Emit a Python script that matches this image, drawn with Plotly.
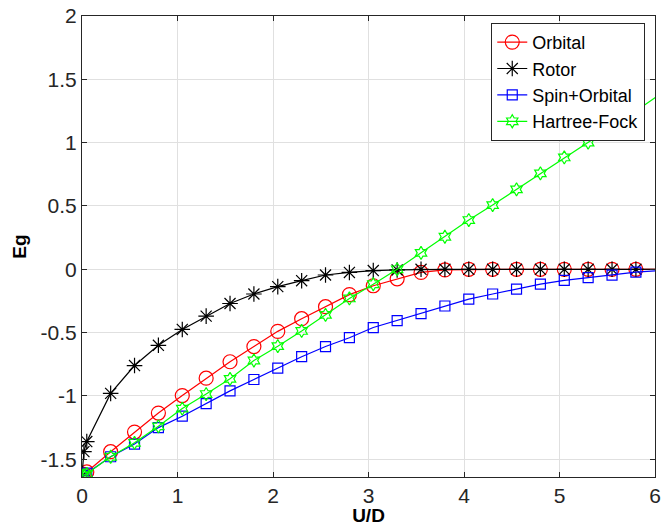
import plotly.graph_objects as go

# U/D values (last point lies just beyond the visible axis range)
x = [0, 0.02, 0.05, 0.3, 0.55, 0.8, 1.05, 1.3, 1.55, 1.8, 2.05, 2.3, 2.55, 2.8,
     3.05, 3.3, 3.55, 3.8, 4.05, 4.3, 4.55, 4.8, 5.05, 5.3, 5.55, 5.8, 6.05]

orbital = [-1.63, -1.62, -1.60, -1.44, -1.285, -1.135, -0.997, -0.86, -0.73, -0.61,
           -0.49, -0.39, -0.295, -0.20, -0.13, -0.075, -0.025, -0.005, 0, 0, 0, 0,
           0, 0, 0, 0, 0]
rotor = [-1.63, -1.44, -1.36, -0.98, -0.76, -0.60, -0.475, -0.37, -0.27, -0.195,
         -0.137, -0.09, -0.045, -0.025, -0.01, -0.005, 0, 0, 0, 0, 0, 0,
         0, 0, 0, 0, 0]
spin_orbital = [-1.63, -1.625, -1.61, -1.48, -1.38, -1.25, -1.16, -1.06, -0.96, -0.87,
                -0.78, -0.69, -0.61, -0.54, -0.46, -0.405, -0.35, -0.29, -0.235,
                -0.195, -0.157, -0.117, -0.088, -0.065, -0.046, -0.023, -0.01]
hartree_fock = [-1.63, -1.625, -1.615, -1.48, -1.37, -1.24, -1.10, -0.985, -0.865,
                -0.72, -0.607, -0.487, -0.36, -0.23, -0.118, 0.0, 0.13, 0.257, 0.389,
                0.507, 0.631, 0.757, 0.883, 1.00, 1.13, 1.25, 1.38]

x_ticks = [0, 1, 2, 3, 4, 5, 6]
y_ticks = [-1.5, -1, -0.5, 0, 0.5, 1, 1.5, 2]
y_tick_text = ["-1.5", "-1", "-0.5", "0", "0.5", "1", "1.5", "2"]

series = [
    ("Orbital", orbital, "#ff0000", "circle-open", 14),
    ("Rotor", rotor, "#000000", "asterisk-open", 13),
    ("Spin+Orbital", spin_orbital, "#0000ff", "square-open", 10),
    ("Hartree-Fock", hartree_fock, "#00ff00", "hexagram-open", 10),
]

fig = go.Figure()
for name, ys, color, sym, size in series:
    # line continuing past the right edge (clipped), no markers
    fig.add_trace(go.Scatter(
        x=x[-2:], y=ys[-2:], mode="lines", showlegend=False, hoverinfo="skip",
        line=dict(color=color, width=1.2),
    ))
    fig.add_trace(go.Scatter(
        x=x[:-1], y=ys[:-1], name=name, mode="lines+markers",
        line=dict(color=color, width=1.2),
        marker=dict(symbol=sym, size=size, color=color, line=dict(color=color, width=1.2)),
    ))

font_family = "Liberation Sans, Arial, Helvetica, sans-serif"
axis_color = "#262626"
grid_color = "#e0e0e0"

fig.update_layout(
    width=662, height=526,
    margin=dict(l=82, r=7, t=16, b=49, autoexpand=False),
    paper_bgcolor="white", plot_bgcolor="white",
    font=dict(family=font_family, size=21, color=axis_color),
    showlegend=True,
    legend=dict(
        x=0.983, y=0.985, xanchor="right", yanchor="top",
        bgcolor="white", bordercolor=axis_color, borderwidth=1,
        font=dict(family=font_family, size=18, color="#000000"),
        itemwidth=30, tracegroupgap=0,
    ),
    xaxis=dict(
        range=[0, 6], tickvals=x_ticks, ticktext=[str(v) for v in x_ticks],
        showgrid=True, gridcolor=grid_color, gridwidth=1,
        showline=True, linecolor=axis_color, linewidth=1, mirror="ticks",
        ticks="inside", ticklen=5, tickcolor=axis_color,
        zeroline=False, automargin=False,
        title=dict(text="<b>U/D</b>", standoff=10, font=dict(size=19, color="#000000")),
    ),
    yaxis=dict(
        range=[-1.64, 2], tickvals=y_ticks, ticktext=y_tick_text,
        showgrid=True, gridcolor=grid_color, gridwidth=1,
        showline=True, linecolor=axis_color, linewidth=1, mirror="ticks",
        ticks="inside", ticklen=5, tickcolor=axis_color,
        zeroline=False, automargin=False,
        title=dict(text="<b>Eg</b>", standoff=8, font=dict(size=19, color="#000000")),
    ),
)

fig.write_html("out.html")
